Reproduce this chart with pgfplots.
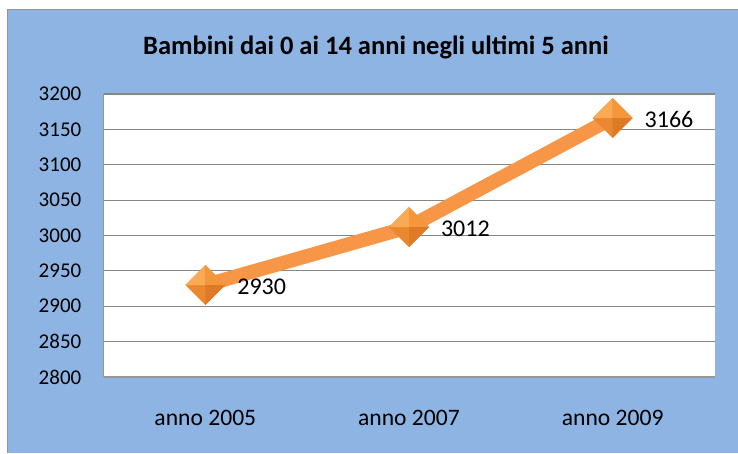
\documentclass[border=0pt]{standalone}
\usepackage{pgfplots}
\pgfplotsset{compat=1.18}
\usepackage{fontspec}
\setmainfont{Carlito}
\definecolor{bgblue}{RGB}{142,180,227}
\definecolor{lineor}{RGB}{247,150,70}
\definecolor{gridg}{RGB}{134,134,134}
\definecolor{frameg}{RGB}{150,150,150}
\definecolor{fA}{RGB}{250,170,84}
\definecolor{fB}{RGB}{244,150,58}
\definecolor{fC}{RGB}{222,122,38}
\definecolor{fD}{RGB}{234,136,48}
\pgfdeclareplotmark{pyr}{%
  \pgfsetfillcolor{fD}%
  \pgfpathmoveto{\pgfqpoint{-\pgfplotmarksize}{0pt}}%
  \pgfpathlineto{\pgfqpoint{0pt}{\pgfplotmarksize}}%
  \pgfpathlineto{\pgfqpoint{\pgfplotmarksize}{0pt}}%
  \pgfpathlineto{\pgfqpoint{0pt}{-\pgfplotmarksize}}%
  \pgfpathclose
  \pgfusepath{fill}%
  \pgfsetfillcolor{fA}%
  \pgfpathmoveto{\pgfqpoint{-\pgfplotmarksize}{0pt}}%
  \pgfpathlineto{\pgfqpoint{0pt}{\pgfplotmarksize}}%
  \pgfpathlineto{\pgfqpoint{0pt}{0pt}}%
  \pgfpathclose
  \pgfusepath{fill}%
  \pgfsetfillcolor{fB}%
  \pgfpathmoveto{\pgfqpoint{0pt}{\pgfplotmarksize}}%
  \pgfpathlineto{\pgfqpoint{\pgfplotmarksize}{0pt}}%
  \pgfpathlineto{\pgfqpoint{0pt}{0pt}}%
  \pgfpathclose
  \pgfusepath{fill}%
  \pgfsetfillcolor{fC}%
  \pgfpathmoveto{\pgfqpoint{\pgfplotmarksize}{0pt}}%
  \pgfpathlineto{\pgfqpoint{0pt}{-\pgfplotmarksize}}%
  \pgfpathlineto{\pgfqpoint{0pt}{0pt}}%
  \pgfpathclose
  \pgfusepath{fill}%
}
\begin{document}
\begin{tikzpicture}[x=1pt,y=1pt]
\useasboundingbox (0,0) rectangle (738,453);
\fill[white] (0,0) rectangle (738,453);
\fill[bgblue] (8,0) rectangle (738,443);
\draw[frameg, line width=1.5pt] (7.5,0) -- (7.5,443.5) -- (738,443.5);
\begin{axis}[
  at={(103.5pt,76pt)}, anchor=south west,
  width=611pt, height=283pt, scale only axis,
  xmin=0.5, xmax=3.5, ymin=2800, ymax=3200,
  ytick distance=50,
  xtick={1,2,3},
  xticklabels={anno 2005, anno 2007, anno 2009},
  axis background/.style={fill=white},
  ymajorgrids, grid style={gridg, line width=1.1pt},
  axis x line*=bottom, axis y line*=left,
  axis line style={-, draw=frameg, line width=1.6pt},
  major tick length=0pt,
  /pgf/number format/assume math mode=true,
  /pgf/number format/1000 sep={},
  yticklabel style={font=\fontsize{21}{25}\selectfont, anchor=east, inner sep=0pt, xshift=-22pt},
  xticklabel style={font=\fontsize{23.6}{28}\selectfont, anchor=base, inner sep=0pt, yshift=-48pt},
  clip=false,
]
\addplot[color=lineor, line width=14pt, mark=pyr, mark size=20pt,
  nodes near coords={\pgfmathprintnumber[fixed,precision=0,1000 sep={}]{\pgfplotspointmeta}},
  point meta=y,
  every node near coord/.style={anchor=west, inner sep=0pt, xshift=25pt, yshift=-1.5pt, text=black, font=\fontsize{24}{28}\selectfont},
] coordinates {(1,2930) (2,3012) (3,3166)};
\end{axis}
\node[font=\bfseries\fontsize{26.5}{30}\selectfont, text=black] at (376,406) {Bambini dai 0 ai 14 anni negli ultimi 5 anni};
\end{tikzpicture}
\end{document}
